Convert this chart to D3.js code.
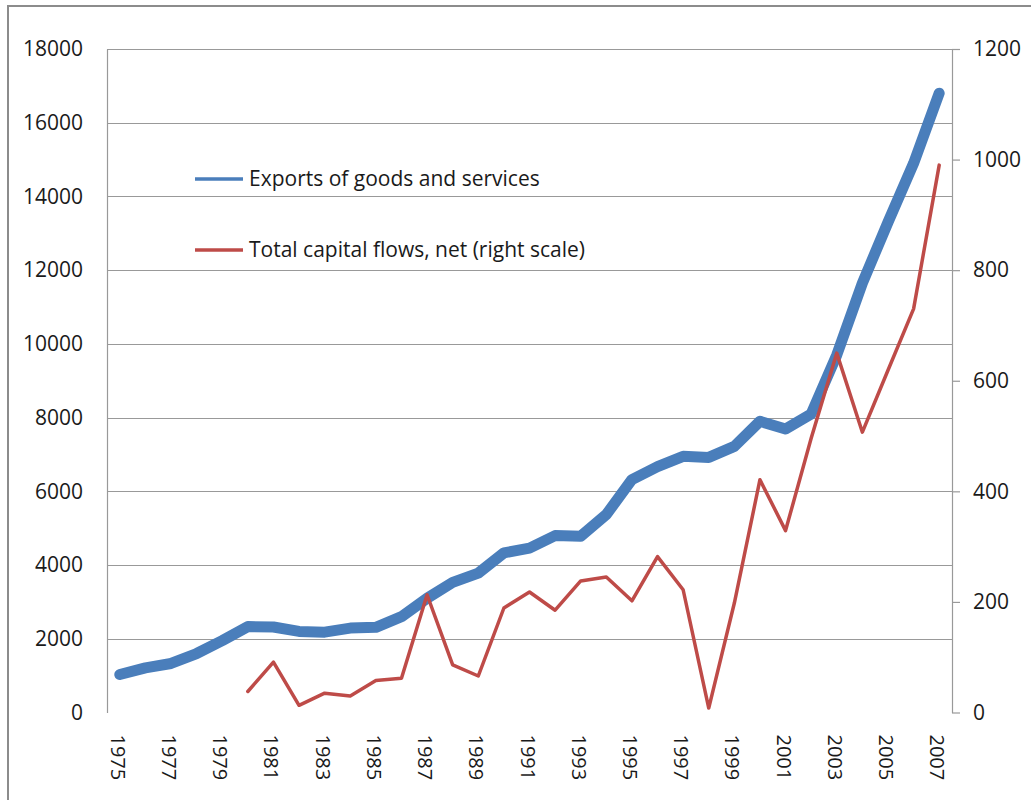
<meta charset="utf-8" />
<script src="https://d3js.org/d3.v7.min.js"></script>
<style>
  body {
    margin: 0;
    background: #fff;
  }
  svg text {
    font-family: "Open Sans", sans-serif;
    fill: #1a1a1a;
  }
</style>
<svg width="1031" height="800"></svg>
<script>
  // years on the category axis
  var years = d3.range(1975, 2008);

  // exports of goods and services (left scale)
  var exportsVals = [
    1030, 1210, 1330, 1600, 1950, 2330, 2320, 2200, 2180, 2290, 2310, 2600,
    3100, 3530, 3780, 4330, 4460, 4800, 4780, 5370, 6320, 6670, 6950, 6920,
    7220, 7900, 7690, 8100, 9700, 11650, 13300, 14900, 16800,
  ];

  // total capital flows, net (right scale), starts 1980
  var flowYears = d3.range(1980, 2008);
  var flowVals = [
    38, 91, 13, 35, 30, 58, 62, 213, 86, 66, 189, 218, 185, 238, 245, 202,
    282, 222, 8, 198, 421, 329, 496, 650, 507, 619, 730, 990,
  ];

  var leftTicks = d3.range(0, 18001, 2000);
  var rightTicks = d3.range(0, 1201, 200);

  var svg = d3.select("svg");
  var margin = { top: 49, right: 79, bottom: 87.5, left: 107 },
    width = 1031 - margin.left - margin.right,
    height = 800 - margin.top - margin.bottom;

  // outer chart frame
  svg
    .append("rect")
    .attr("x", 8)
    .attr("y", 6)
    .attr("width", 1040)
    .attr("height", 820)
    .attr("fill", "none")
    .attr("stroke", "#8c8c8c")
    .attr("stroke-width", 2);

  var g = svg
    .append("g")
    .attr("transform", "translate(" + margin.left + "," + margin.top + ")");

  var x = d3.scaleBand().domain(years).range([0, width]);
  var yL = d3.scaleLinear().domain([0, 18000]).range([height, 0]);
  var yR = d3.scaleLinear().domain([0, 1200]).range([height, 0]);

  function cx(d) {
    return x(d) + x.bandwidth() / 2;
  }

  // gridlines
  g.append("g")
    .selectAll("line")
    .data(leftTicks.filter(function (d) { return d > 0; }))
    .enter()
    .append("line")
    .attr("x1", 0)
    .attr("x2", width)
    .attr("y1", function (d) { return Math.round(yL(d)) + 0.5; })
    .attr("y2", function (d) { return Math.round(yL(d)) + 0.5; })
    .attr("stroke", "#999")
    .attr("stroke-width", 1.2);

  // left axis
  var axL = g
    .append("g")
    .call(
      d3.axisLeft(yL).tickValues(leftTicks).tickFormat(d3.format("d")).tickSize(0).tickPadding(24)
    );
  axL.select(".domain").attr("stroke", "#999").attr("stroke-width", 1.2);
  axL.selectAll("text").attr("font-size", 21);

  // right axis
  var axR = g
    .append("g")
    .attr("transform", "translate(" + width + ",0)")
    .call(
      d3.axisRight(yR).tickValues(rightTicks).tickFormat(d3.format("d"))
        .tickSizeInner(8).tickSizeOuter(0).tickPadding(13)
    );
  axR.select(".domain").attr("stroke", "#999").attr("stroke-width", 1.2);
  axR.selectAll(".tick line").attr("stroke", "#999").attr("stroke-width", 1.2);
  axR.selectAll("text").attr("font-size", 21);

  // year labels, rotated
  g.append("g")
    .selectAll("text")
    .data(years.filter(function (d, i) { return i % 2 === 0; }))
    .enter()
    .append("text")
    .attr("transform", function (d) {
      return "translate(" + (cx(d) - 2) + "," + (height + 22) + ") rotate(90)";
    })
    .attr("dy", "0.35em")
    .attr("text-anchor", "start")
    .attr("font-size", 20)
    .text(function (d) { return d; });

  // lines
  var lineL = d3
    .line()
    .x(function (d, i) { return cx(years[i]); })
    .y(function (d) { return yL(d); });

  var lineR = d3
    .line()
    .x(function (d, i) { return cx(flowYears[i]); })
    .y(function (d) { return yR(d); });

  g.append("path")
    .datum(exportsVals)
    .attr("d", lineL)
    .attr("fill", "none")
    .attr("stroke", "#4a7ebb")
    .attr("stroke-width", 11)
    .attr("stroke-linejoin", "round")
    .attr("stroke-linecap", "round");

  g.append("path")
    .datum(flowVals)
    .attr("d", lineR)
    .attr("fill", "none")
    .attr("stroke", "#be4b48")
    .attr("stroke-width", 3.5)
    .attr("stroke-linejoin", "round")
    .attr("stroke-linecap", "round");

  // legend
  var legend = [
    { name: "Exports of goods and services", color: "#4a7ebb", y: 179 },
    { name: "Total capital flows, net (right scale)", color: "#be4b48", y: 250 },
  ];
  var lg = svg.append("g");
  lg.selectAll("line")
    .data(legend)
    .enter()
    .append("line")
    .attr("x1", 195)
    .attr("x2", 243)
    .attr("y1", function (d) { return d.y; })
    .attr("y2", function (d) { return d.y; })
    .attr("stroke", function (d) { return d.color; })
    .attr("stroke-width", 3.5);
  lg.selectAll("text")
    .data(legend)
    .enter()
    .append("text")
    .attr("x", 249)
    .attr("y", function (d) { return d.y; })
    .attr("dy", "0.35em")
    .attr("font-size", 21)
    .text(function (d) { return d.name; });
</script>
